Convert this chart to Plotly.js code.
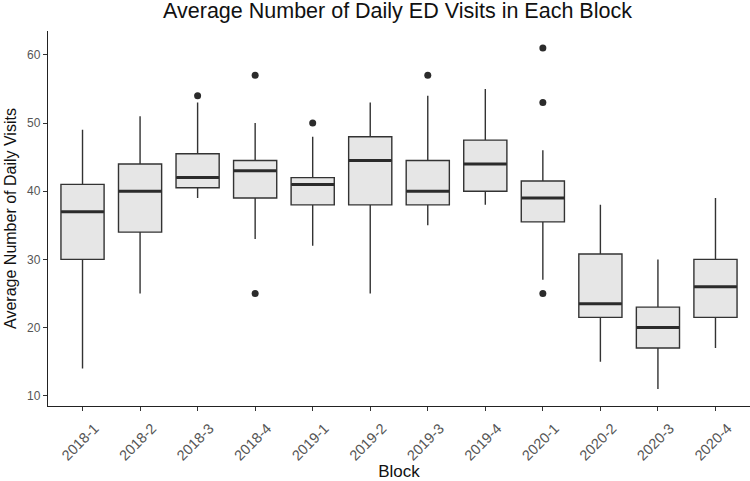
<!DOCTYPE html>
<html>
<head>
<meta charset="utf-8">
<script src="https://cdn.plot.ly/plotly-3.0.1.min.js"></script>
<style>html,body{margin:0;padding:0;background:#fff;}#chart{width:750px;height:481px;}</style>
</head>
<body>
<div id="chart"></div>
<script>
const categories = ["2018-1","2018-2","2018-3","2018-4","2019-1","2019-2","2019-3","2019-4","2020-1","2020-2","2020-3","2020-4"];
const lowerWhisker = [14, 25, 39, 33, 32, 25, 35, 38, 27, 15, 11, 17];
const q1Values     = [30, 34, 40.5, 39, 38, 38, 38, 40, 35.5, 21.5, 17, 21.5];
const medianValues = [37, 40, 42, 43, 41, 44.5, 40, 44, 39, 23.5, 20, 26];
const q3Values     = [41, 44, 45.5, 44.5, 42, 48, 44.5, 47.5, 41.5, 30.8, 23, 30];
const upperWhisker = [49, 51, 53, 50, 48, 53, 54, 55, 46, 38, 30, 39];
const outlierCats  = ["2018-3","2018-4","2018-4","2019-1","2019-3","2020-1","2020-1","2020-1"];
const outlierVals  = [54, 57, 25, 50, 57, 61, 53, 25];

const boxTrace = {
  type: "box",
  x: categories,
  q1: q1Values,
  median: medianValues,
  q3: q3Values,
  lowerfence: lowerWhisker,
  upperfence: upperWhisker,
  boxpoints: false,
  width: 0.75,
  whiskerwidth: 0,
  fillcolor: "#e6e6e6",
  line: {color: "#333333", width: 1.4},
  hoverinfo: "skip",
  showlegend: false
};

const medianTrace = {
  type: "scatter",
  mode: "markers",
  x: categories,
  y: medianValues,
  marker: {symbol: "line-ew", size: 30.5, line: {color: "#2b2b2b", width: 3}},
  hoverinfo: "skip",
  showlegend: false
};

const outlierTrace = {
  type: "scatter",
  mode: "markers",
  x: outlierCats,
  y: outlierVals,
  marker: {color: "#2b2b2b", size: 7},
  hoverinfo: "skip",
  showlegend: false
};

const layout = {
  width: 750, height: 481,
  margin: {l: 48, r: 0, t: 31, b: 75},
  paper_bgcolor: "#ffffff",
  plot_bgcolor: "#ffffff",
  font: {family: "Liberation Sans, Arial, sans-serif", color: "#000"},
  title: {text: "Average Number of Daily ED Visits in Each Block", font: {size: 21.5, color: "#111"}, x: 0.53, xanchor: "center", y: 0.978, yanchor: "middle"},
  xaxis: {
    type: "category",
    categoryorder: "array",
    categoryarray: categories,
    range: [-0.6, 11.6],
    showgrid: false, zeroline: false,
    showline: true, linecolor: "#222", linewidth: 1.2,
    ticks: "outside", ticklen: 4, tickcolor: "#333", tickwidth: 1,
    tickangle: -45,
    ticklabelshift: 12,
    ticklabelstandoff: 3,
    tickfont: {size: 14.5, color: "#555555"},
    title: {text: "Block", font: {size: 17, color: "#111"}, standoff: 5}
  },
  yaxis: {
    range: [8.5, 63.5],
    tickvals: [10, 20, 30, 40, 50, 60],
    showgrid: false, zeroline: false,
    showline: true, linecolor: "#222", linewidth: 1.2,
    ticks: "outside", ticklen: 4, tickcolor: "#333", tickwidth: 1,
    tickfont: {size: 12, color: "#555555"},
    title: {text: "Average Number of Daily Visits", font: {size: 16, color: "#111"}, standoff: 6}
  }
};

Plotly.newPlot("chart", [boxTrace, medianTrace, outlierTrace], layout, {displayModeBar: false, staticPlot: true});
</script>
</body>
</html>
